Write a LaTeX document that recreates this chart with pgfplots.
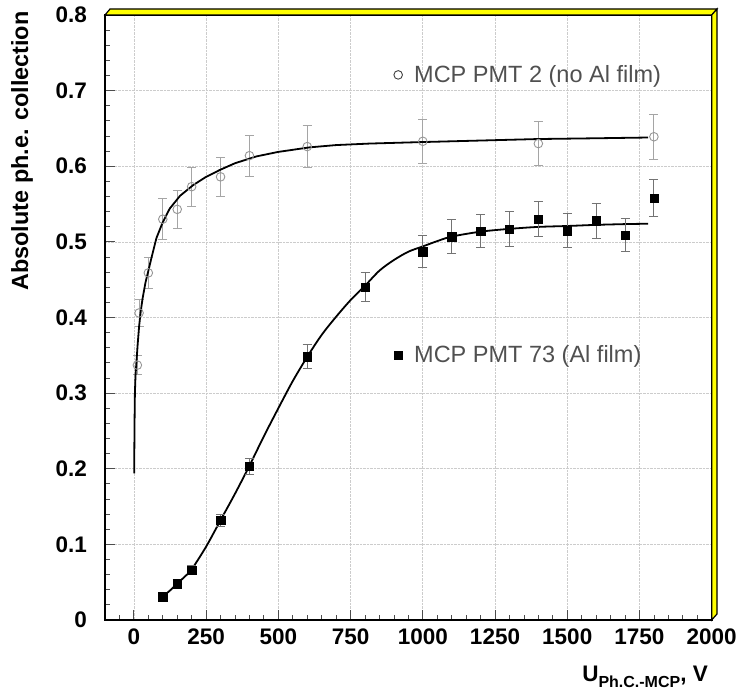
\documentclass[border=0pt]{standalone}
\usepackage{fontspec}
\setmainfont{Liberation Sans}
\usepackage{pgfplots}
\usepackage{pgfplotstable}
\pgfplotsset{compat=1.18}
\definecolor{legtext}{RGB}{80,80,80}
\definecolor{circgray}{RGB}{150,150,150}
\definecolor{ebgray}{RGB}{165,165,165}
\definecolor{frameyellow}{RGB}{255,255,0}

\pgfplotstableread{
x y e
12 0.337 0.013
18 0.406 0.018
50 0.459 0.020
100 0.530 0.027
150 0.543 0.025
200 0.573 0.026
300 0.586 0.026
400 0.614 0.027
600 0.626 0.028
1000 0.633 0.029
1400 0.630 0.029
1800 0.639 0.030
}\circdata

\pgfplotstableread{
x y e
100 0.031 0.004
150 0.048 0.005
200 0.066 0.006
300 0.132 0.008
400 0.203 0.010
600 0.348 0.016
800 0.440 0.019
1000 0.487 0.021
1100 0.507 0.022
1200 0.514 0.022
1300 0.517 0.023
1400 0.530 0.023
1500 0.515 0.023
1600 0.528 0.023
1700 0.509 0.022
1800 0.558 0.024
}\sqdata

\pgfplotstableread{
x y
1 0.194
1.5 0.222
2.3 0.262
3.5 0.300
5.5 0.322
9 0.342
13 0.364
18 0.388
23 0.406
30 0.425
40 0.446
49 0.460
59 0.476
78 0.505
100 0.526
124 0.544
160 0.561
205 0.575
250 0.586
297 0.595
350 0.604
424 0.613
500 0.619
609 0.625
700 0.628
816 0.630
1000 0.632
1200 0.634
1400 0.636
1600 0.637
1780 0.638
}\fitone

\pgfplotstableread{
x y
100 0.031
125 0.039
150 0.048
175 0.057
200 0.067
250 0.097
300 0.132
350 0.167
400 0.204
450 0.243
500 0.280
550 0.316
600 0.348
650 0.377
700 0.401
750 0.423
800 0.442
850 0.462
900 0.476
950 0.487
1000 0.494
1050 0.501
1100 0.507
1200 0.5135
1300 0.5172
1400 0.5198
1500 0.521
1600 0.5225
1700 0.5235
1780 0.524
}\fittwo

\begin{document}
\begin{tikzpicture}[x=1pt,y=1pt]
\path[use as bounding box] (0,0) rectangle (740,691);
\pgfplotsset{
  common/.style={
    at={(105pt,71pt)}, anchor=south west,
    scale only axis, width=606.7pt, height=605pt,
    xmin=-100, xmax=2000, ymin=0, ymax=0.8,
  },
  legstyle/.style={
    legend style={draw=none, fill=none, inner sep=0pt,
      font=\fontsize{23.5}{25}\selectfont\color{legtext},
      nodes={inner sep=0pt}},
    legend image code/.code={\path[draw=none,fill=none] (-5pt,0pt) -- (16pt,0pt); \draw[##1] plot coordinates {(0pt,0pt)};},
  },
}
\begin{axis}[common, legstyle,
  legend image code/.code={\path[draw=none,fill=none] (-5pt,0pt) -- (16pt,0pt); \draw[#1, draw=black!75] plot coordinates {(0pt,0pt)};},
  xtick={-250,0,250,...,2000},
  ytick={0,0.1,...,0.8},
  minor x tick num=4, minor y tick num=4,
  xtick pos=bottom, ytick pos=left,
  tick align=inside,
  major tick length=10pt, minor tick length=5pt,
  tick style={line width=0.8pt, color=black!70},
  axis line style={line width=2pt},
  grid=major, major grid style={densely dotted, line width=0.6pt, black!20},
  /pgf/number format/assume math mode=true,
  /pgf/number format/1000 sep={},
  ticklabel style={font=\fontsize{22.5}{24}\selectfont\bfseries},
  yticklabel style={anchor=east, inner sep=0pt, xshift=-18pt},
  xticklabel style={anchor=north, inner sep=0pt, yshift=-9pt},
  legend style={at={(0.4747,0.901)}, anchor=west},
]
\addplot[only marks, mark=o, mark size=4.3pt, color=circgray, line width=0.9pt,
  error bars/.cd, y dir=both, y explicit,
  error bar style={ebgray, line width=1pt},
  error mark options={rotate=90, mark size=4.5pt, ebgray, line width=1pt}]
  table[x=x, y=y, y error=e] {\circdata};
\addlegendentry{MCP PMT 2 (no Al film)}
\addplot[forget plot, black, line width=1.8pt] table[x=x,y=y] {\fitone};
\addplot[forget plot, black, line width=1.8pt, smooth] table[x=x,y=y] {\fittwo};
\end{axis}
\begin{axis}[common, legstyle, hide axis,
  legend style={at={(0.4747,0.438)}, anchor=west},
]
\addplot[only marks, mark=square*, mark size=4.2pt, color=black,
  error bars/.cd, y dir=both, y explicit,
  error bar style={black!55, line width=1pt},
  error mark options={rotate=90, mark size=4.5pt, black!55, line width=1pt}]
  table[x=x, y=y, y error=e] {\sqdata};
\addlegendentry{MCP PMT 73 (Al film)}
\end{axis}
% raised yellow frame on top and right
\filldraw[fill=frameyellow, draw=black, line width=1.2pt]
  (105,676) -- (110,682) -- (717,682) -- (711.7,676) -- cycle;
\filldraw[fill=frameyellow, draw=black, line width=1.2pt]
  (711.7,676) -- (717,682) -- (717,77) -- (711.7,71) -- cycle;
\node[rotate=90, font=\fontsize{23.4}{24}\selectfont\bfseries] at (22,540) {Absolute ph.e. collection};
\node[anchor=base east, font=\fontsize{22.5}{24}\selectfont\bfseries, inner sep=0pt] at (708,9.3)
  {U\raisebox{-6pt}{\fontsize{16}{16}\selectfont Ph.C.-MCP}, V};
\end{tikzpicture}
\end{document}
